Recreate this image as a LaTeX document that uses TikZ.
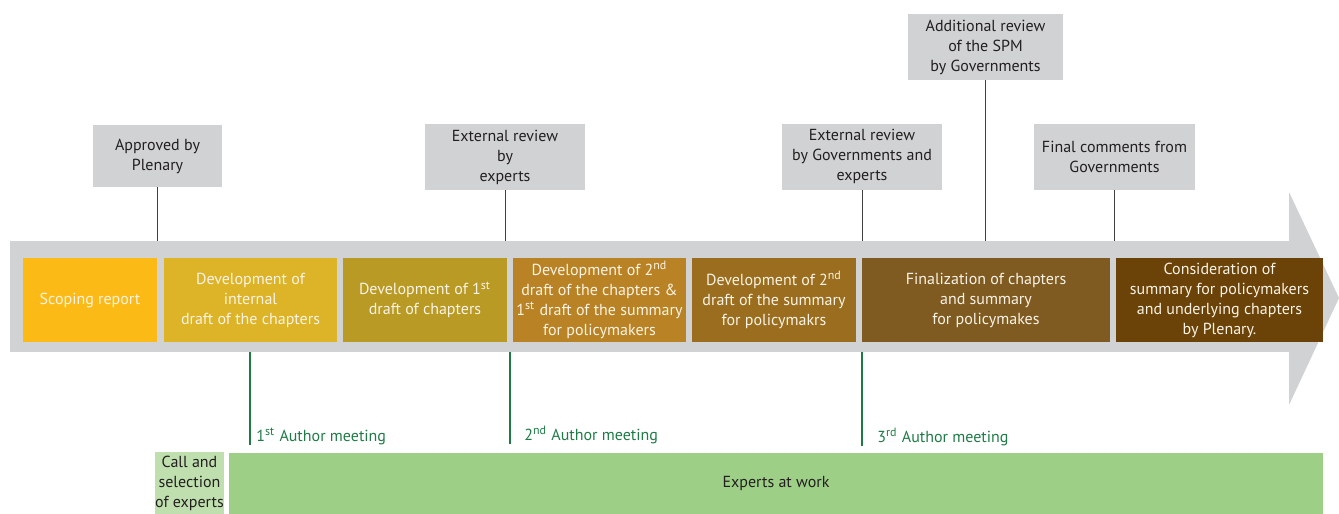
\documentclass[tikz,border=0pt]{standalone}
\usepackage{fontspec}
\setmainfont{PT Sans}
\usetikzlibrary{positioning}

\definecolor{bandgray}{HTML}{D1D2D4}
\definecolor{scopecol}{HTML}{FBBA16}
\definecolor{devacol}{HTML}{DDB327}
\definecolor{devbcol}{HTML}{B99A25}
\definecolor{devccol}{HTML}{B98325}
\definecolor{devdcol}{HTML}{9A6E1E}
\definecolor{finalcol}{HTML}{7F5B22}
\definecolor{plencol}{HTML}{6B4208}
\definecolor{meetgreen}{HTML}{1E7B45}
\definecolor{callgreen}{HTML}{BFDFAF}
\definecolor{workgreen}{HTML}{9ECF87}
\definecolor{stagetext}{HTML}{FAF3E6}
\definecolor{inktext}{HTML}{231F20}

\tikzset{
  stage/.style={minimum height=42pt, inner sep=0pt, align=center, text=stagetext,
    font=\fontsize{8}{10}\selectfont},
  review/.style={fill=bandgray, minimum height=33pt, inner sep=0pt, align=center,
    text=inktext, font=\fontsize{8}{10}\selectfont},
  meet/.style={anchor=south west, inner ysep=0pt, text=meetgreen,
    font=\fontsize{8}{10}\selectfont},
  tick/.style={draw=black!75, line width=0.5pt},
  meetline/.style={draw=meetgreen, line width=0.7pt},
  work/.style={minimum height=31pt, inner sep=0pt, align=center, text=inktext,
    font=\fontsize{8}{10}\selectfont}
}
\newcommand{\ord}[1]{\textsuperscript{#1}}

\begin{document}
\begin{tikzpicture}[x=0.5pt, y=-0.5pt]
  \useasboundingbox (0,0) rectangle (1339,514);

  % the gray time arrow
  \node[fill=bandgray, minimum width=640pt, minimum height=55.5pt, inner sep=0pt] (band) at (650,296.5) {};
  \fill[bandgray] (1289,192) -- (1339,298) -- (1289,405) -- cycle;

  % stages
  \node[stage, fill=scopecol, minimum width=67pt] (s1) at (90,300) {Scoping report};
  \node[stage, fill=devacol, minimum width=86.5pt] (s2) at (250.5,300) {Development of\\internal\\draft of the chapters};
  \node[stage, fill=devbcol, minimum width=82pt] (s3) at (425,300) {Development of 1\ord{st}\\draft of chapters};
  \node[stage, fill=devccol, minimum width=86.5pt] (s4) at (599.5,300) {Development of 2\ord{nd}\\draft of the chapters \&\\1\ord{st} draft of the summary\\for policymakers};
  \node[stage, fill=devdcol, minimum width=82pt] (s5) at (774,300) {Development of 2\ord{nd}\\draft of the summary\\for policymakrs};
  \node[stage, fill=finalcol, minimum width=124pt] (s6) at (986,300) {Finalization of chapters\\and summary\\for policymakes};
  \node[stage, fill=plencol, minimum width=103.5pt] (s7) at (1219.5,300) {Consideration of\\summary for policymakers\\and underlying chapters\\by Plenary.};

  % reviews above the arrow
  \node[review, minimum width=64.5pt, minimum height=31pt] (appr) at (157.5,156) {Approved by\\Plenary};
  \node[review, minimum width=80pt] (extA) at (505,157) {External review\\by\\experts};
  \node[review, minimum width=80pt] (extB) at (862,156.5) {External review\\by Governments and\\experts};
  \node[review, minimum width=77.5pt] (addl) at (985.5,47) {Additional review\\of the SPM\\by Governments};
  \node[review, minimum width=80.5pt] (fin) at (1114.5,156.5) {Final comments from\\Governments};

  \draw[tick] (appr.south) -- (appr.south |- band.north);
  \draw[tick] (extA.south) -- (extA.south |- band.north);
  \draw[tick] (extB.south) -- (extB.south |- band.north);
  \draw[tick] (addl.south) -- (addl.south |- band.north);
  \draw[tick] (fin.south) -- (fin.south |- band.north);

  % author meetings
  \node[meet, inner xsep=3pt] (m1) at (250,445) {1\ord{st} Author meeting};
  \node[meet, inner xsep=7pt] (m2) at (510,444) {2\ord{nd} Author meeting};
  \node[meet, inner xsep=7.5pt] (m3) at (862,446) {3\ord{rd} Author meeting};

  \draw[meetline] (m1.south west) -- (m1.south west |- band.south);
  \draw[meetline] (m2.south west) -- (m2.south west |- band.south);
  \draw[meetline] (m3.south west) -- (m3.south west |- band.south);

  % experts
  \node[work, fill=callgreen, minimum width=34.5pt] (call) at (189.5,483) {Call and\\selection\\of experts};
  \node[work, fill=workgreen, minimum width=547pt, minimum height=30.5pt] (work) at (776,483.5) {Experts at work};
\end{tikzpicture}
\end{document}
